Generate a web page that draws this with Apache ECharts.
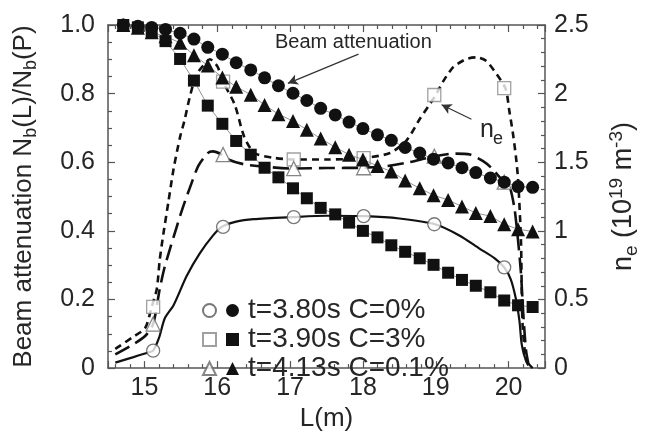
<!DOCTYPE html>
<html><head><meta charset="utf-8">
<script src="https://cdn.jsdelivr.net/npm/echarts@6/dist/echarts.min.js"></script>
<style>html,body{margin:0;padding:0;background:#fff}#c{width:649px;height:437px}</style>
</head><body><div id="c"></div>
<script>
// ---- beam attenuation (left axis), filled markers ----
const L = [14.71,14.91,15.10,15.29,15.49,15.68,15.87,16.07,16.26,16.46,16.65,16.84,17.04,17.23,17.42,17.62,17.81,18.00,18.20,18.39,18.58,18.78,18.97,19.17,19.36,19.55,19.75,19.94,20.13,20.33];
const beam380 = [1.0,0.996,0.993,0.987,0.976,0.959,0.935,0.915,0.890,0.869,0.846,0.823,0.801,0.780,0.757,0.738,0.717,0.698,0.680,0.664,0.643,0.627,0.609,0.598,0.584,0.570,0.554,0.542,0.529,0.527];
const beam390 = [1.0,0.993,0.981,0.953,0.901,0.838,0.765,0.712,0.662,0.622,0.584,0.556,0.524,0.495,0.467,0.448,0.424,0.400,0.381,0.358,0.339,0.320,0.301,0.278,0.257,0.240,0.221,0.197,0.183,0.178];
const beam413 = [1.0,0.992,0.979,0.967,0.948,0.912,0.882,0.847,0.820,0.797,0.767,0.740,0.720,0.695,0.669,0.644,0.622,0.608,0.589,0.573,0.547,0.524,0.504,0.490,0.471,0.452,0.443,0.419,0.405,0.398];

// ---- electron density n_e (right axis) profiles ----
const neL380 = [14.6,14.85,15.06,15.12,15.2,15.28,15.4,15.58,15.76,15.94,16.06,16.26,16.5,17.03,17.5,18.03,18.5,18.99,19.33,19.6,19.81,19.94,20.03,20.1,20.15,20.18,20.24,20.33];
const ne380   = [0.04,0.080,0.115,0.127,0.22,0.363,0.458,0.671,0.836,0.965,1.029,1.067,1.085,1.100,1.110,1.107,1.090,1.048,0.965,0.871,0.800,0.734,0.647,0.505,0.340,0.175,0.057,0.0];
const neL390 = [14.6,14.83,15.01,15.10,15.17,15.21,15.26,15.33,15.40,15.49,15.55,15.62,15.71,15.81,15.9,16.0,16.08,16.24,16.37,16.51,16.78,17.05,17.5,18.0,18.37,18.6,18.78,18.99,19.1,19.24,19.42,19.56,19.69,19.83,19.96,20.01,20.06,20.1,20.13,20.17,20.19,20.24,20.3];
const ne390   = [0.14,0.222,0.292,0.446,0.576,0.788,0.977,1.213,1.450,1.685,1.804,1.969,2.134,2.205,2.25,2.20,2.087,1.92,1.686,1.567,1.532,1.52,1.52,1.53,1.567,1.66,1.815,1.981,2.087,2.193,2.252,2.264,2.24,2.146,2.035,1.875,1.709,1.544,1.379,0.93,0.34,0.057,0.0];
const neL413 = [14.6,14.85,15.01,15.12,15.21,15.28,15.40,15.51,15.62,15.74,15.87,15.94,16.06,16.15,16.37,16.7,17.05,17.5,18.0,18.3,18.6,18.99,19.26,19.47,19.65,19.76,19.94,20.01,20.08,20.13,20.17,20.2,20.24,20.28];
const ne413   = [0.10,0.175,0.234,0.321,0.576,0.741,0.954,1.142,1.308,1.473,1.567,1.579,1.556,1.52,1.485,1.465,1.454,1.458,1.46,1.47,1.496,1.544,1.563,1.556,1.508,1.461,1.355,1.33,1.166,0.93,0.694,0.41,0.127,0.01];

// ---- open markers on n_e profiles ----
const neMarkL = [15.12,16.08,17.05,18.01,18.98,19.94];
const neMark380 = [0.127,1.029,1.100,1.107,1.048,0.734];
const neMark390 = [0.446,2.087,1.52,1.53,1.99,2.04];
const neMark413 = [0.321,1.556,1.454,1.46,1.544,1.355];

const legendLabels = ['t=3.80s C=0%','t=3.90s C=3%','t=4.13s C=0.1%'];
const openNames = ['o380','o390','o413'];
const symbols = ['circle','rect','triangle'];

const FONT = "'Liberation Sans', Arial, Helvetica, sans-serif";
const TXT = '#262626';
const AX = '#555';

function zip(xs, ys){ return xs.map((x,i)=>[x, ys[i]]); }

const axLine = {show:true, onZero:false, lineStyle:{color:AX, width:1.5}};
const tickStyle = {color:AX, width:1.2};

const chart = echarts.init(document.getElementById('c'), null, {renderer:'canvas'});
chart.setOption({
  animation:false,
  textStyle:{fontFamily:FONT},
  grid:{left:106, top:25, width:440, height:353, containLabel:false},
  xAxis:[
    {type:'value', min:14.5, max:20.5, position:'bottom',
     axisLine:axLine,
     axisTick:{show:true, inside:true, length:7, lineStyle:tickStyle},
     minorTick:{show:true, splitNumber:5, length:4, lineStyle:tickStyle},
     splitLine:{show:false}, minorSplitLine:{show:false},
     axisLabel:{fontSize:25, color:TXT, fontFamily:FONT, margin:8, showMinLabel:false, showMaxLabel:false,
       formatter:v=>Number.isInteger(v)?String(v):''},
     name:'L(m)', nameLocation:'middle', nameGap:33,
     nameTextStyle:{fontSize:26, color:TXT, fontFamily:FONT}},
    {type:'value', min:14.5, max:20.5, position:'top',
     axisLine:axLine,
     axisTick:{show:true, inside:true, length:7, lineStyle:tickStyle},
     minorTick:{show:true, splitNumber:5, length:4, lineStyle:tickStyle},
     splitLine:{show:false}, axisLabel:{show:false}}
  ],
  yAxis:[
    {type:'value', min:0, max:1, interval:0.2, position:'left',
     axisLine:axLine,
     axisTick:{show:true, inside:true, length:7, lineStyle:tickStyle},
     minorTick:{show:true, splitNumber:4, length:4, lineStyle:tickStyle},
     splitLine:{show:false},
     axisLabel:{fontSize:25, color:TXT, fontFamily:FONT, margin:13,
       formatter:v=>v===0?'0':v.toFixed(1)},
     name:'Beam attenuation N{s|b}(L)/N{s|b}(P)', nameLocation:'middle', nameRotate:90, nameGap:68,
     nameTextStyle:{fontSize:26, color:TXT, fontFamily:FONT, lineHeight:32,
       rich:{s:{fontSize:18, color:TXT, fontFamily:FONT, lineHeight:18, verticalAlign:'bottom'}}}},
    {type:'value', min:0, max:2.5, interval:0.5, position:'right',
     axisLine:axLine,
     axisTick:{show:true, inside:true, length:7, lineStyle:tickStyle},
     minorTick:{show:true, splitNumber:5, length:4, lineStyle:tickStyle},
     splitLine:{show:false},
     axisLabel:{fontSize:25, color:TXT, fontFamily:FONT, margin:9, formatter:v=>String(v)},
     name:'n{s|e} (10{p|19} m{p|-3})', nameLocation:'middle', nameRotate:90, nameGap:62,
     nameTextStyle:{fontSize:27, color:TXT, fontFamily:FONT, lineHeight:34,
       rich:{s:{fontSize:19, color:TXT, fontFamily:FONT, lineHeight:19, verticalAlign:'bottom'},
             p:{fontSize:19, color:TXT, fontFamily:FONT, lineHeight:19, verticalAlign:'top'}}}}
  ],
  legend:[
    {data:openNames.map((n,i)=>({name:n, icon:symbols[i]})), orient:'vertical', left:197, top:291,
     itemWidth:13, itemHeight:13, itemGap:0, selectedMode:false, formatter:()=>' ',
     textStyle:{fontSize:28, lineHeight:29, fontFamily:FONT}},
    {data:legendLabels.map((n,i)=>({name:n, icon:symbols[i]})), orient:'vertical', left:221, top:291,
     itemWidth:13, itemHeight:13, itemGap:0, selectedMode:false,
     textStyle:{fontSize:28, lineHeight:29, color:TXT, fontFamily:FONT, padding:[0,0,0,4]}}
  ],
  graphic:[
    {type:'text', left:275, top:32, style:{text:'Beam attenuation', fontSize:20, fontFamily:FONT, fill:TXT}},
    {type:'text', left:480, top:118, style:{text:'n', fontSize:25, fontFamily:FONT, fill:TXT}},
    {type:'text', left:493, top:130, style:{text:'e', fontSize:18, fontFamily:FONT, fill:TXT}}
  ],
  series:[
    {type:'line', name:'ne380', yAxisIndex:1, data:zip(neL380, ne380), symbol:'none', smooth:0.25,
     lineStyle:{color:'#111', width:2.2}, z:2},
    {type:'line', name:'ne390', yAxisIndex:1, data:zip(neL390, ne390), symbol:'none', smooth:0.25,
     lineStyle:{color:'#111', width:2.6, type:[7,5]}, z:2,
     markLine:{silent:true, symbol:['none','arrow'], symbolSize:[8,10], label:{show:false},
       lineStyle:{color:'#333', width:1.2, type:'solid'},
       data:[[{coord:[19.49,1.813]},{coord:[19.08,1.919]}]]}},
    {type:'line', name:'ne413', yAxisIndex:1, data:zip(neL413, ne413), symbol:'none', smooth:0.25,
     lineStyle:{color:'#111', width:2.6, type:[16,7]}, z:2},
    {type:'scatter', name:'o380', yAxisIndex:1, data:zip(neMarkL, neMark380), symbol:'circle', symbolSize:13,
     itemStyle:{color:'#fff', borderColor:'#555', borderWidth:1.3}, z:3},
    {type:'scatter', name:'o390', yAxisIndex:1, data:zip(neMarkL, neMark390), symbol:'rect', symbolSize:13,
     itemStyle:{color:'#fff', borderColor:'#888', borderWidth:1.3}, z:3},
    {type:'scatter', name:'o413', yAxisIndex:1, data:zip(neMarkL, neMark413), symbol:'triangle', symbolSize:14,
     itemStyle:{color:'#fff', borderColor:'#666', borderWidth:1.3}, z:3},
    {type:'line', name:legendLabels[0], data:zip(L, beam380), symbol:'circle', symbolSize:13, showAllSymbol:true,
     itemStyle:{color:'#111'}, lineStyle:{color:'#777', width:0.8}, z:4,
     markLine:{silent:true, symbol:['none','arrow'], symbolSize:[8,10], label:{show:false},
       lineStyle:{color:'#333', width:1.2, type:'solid'},
       data:[[{coord:[17.94,0.915]},{coord:[16.97,0.830]}]]}},
    {type:'line', name:legendLabels[1], data:zip(L, beam390), symbol:'rect', symbolSize:12, showAllSymbol:true,
     itemStyle:{color:'#111'}, lineStyle:{color:'#777', width:0.8}, z:4},
    {type:'line', name:legendLabels[2], data:zip(L, beam413), symbol:'triangle', symbolSize:14, showAllSymbol:true,
     itemStyle:{color:'#111'}, lineStyle:{color:'#777', width:0.8}, z:4}
  ]
});
</script></body></html>
